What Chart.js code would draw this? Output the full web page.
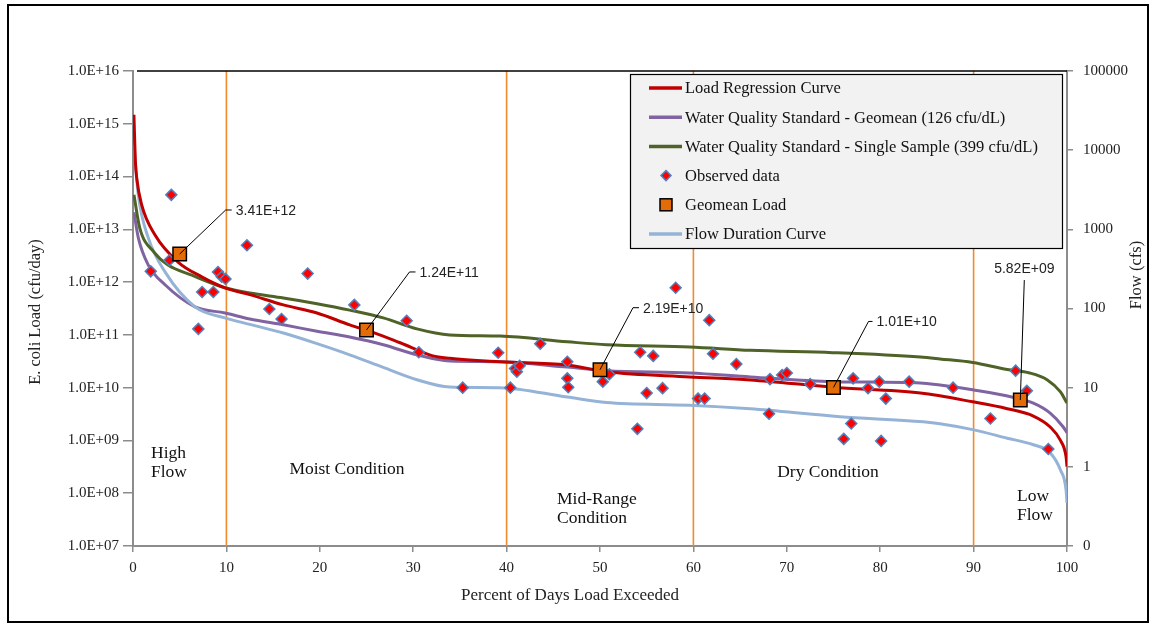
<!DOCTYPE html>
<html>
<head>
<meta charset="utf-8">
<script src="https://cdn.jsdelivr.net/npm/chart.js"></script>
<style>
  body { margin: 0; background: #fff; }
  #c { display: block; }
</style>
</head>
<body>
<canvas id="c" width="1155" height="628"></canvas>
<script>
// percent of days exceeded vs load (cfu/day)
const loadX = [0.1, 0.25, 0.4, 0.93, 2.36, 4.82, 7.36, 9.85, 12.5, 16.1, 19.7, 23.2, 25.7, 28.6, 32.1, 33.9, 39.3, 46.5, 50.7, 59.6, 66.1, 74.9, 84.3, 89.9, 93.6, 96.4, 98.2, 99.3, 99.9, 100];
const loadY = [1.48e15, 2.0e14, 9.3e13, 2.9e13, 7.8e12, 2.4e12, 1.26e12, 7.8e11, 5.8e11, 3.7e11, 2.6e11, 1.55e11, 1.12e11, 7.1e10, 4.0e10, 3.6e10, 3.1e10, 2.7e10, 2.0e10, 1.6e10, 1.4e10, 1.02e10, 7.9e9, 5.4e9, 4.0e9, 2.9e9, 1.8e9, 1.0e9, 4.9e8, 3.2e8];

const wqsGeoX = [0.1, 0.57, 1.64, 3.43, 6.64, 9.85, 12.5, 16.1, 19.7, 23.2, 26.8, 30.4, 33.9, 39.3, 46.5, 50.7, 59.6, 66.1, 74.9, 84.3, 86.4, 89.9, 94.2, 96.4, 98.2, 99.6, 100];
const wqsGeoY = [2.1e13, 6.9e12, 2.1e12, 8.9e11, 3.4e11, 2.6e11, 2.0e11, 1.55e11, 1.17e11, 9.1e10, 6.5e10, 4.2e10, 3.2e10, 3.1e10, 2.45e10, 2.1e10, 1.9e10, 1.6e10, 1.3e10, 1.23e10, 1.12e10, 9.1e9, 6.6e9, 5.1e9, 3.3e9, 1.8e9, 1.4e9];

const wqsSingleX = [0.1, 0.72, 2.25, 3.75, 6.3, 9.85, 12.5, 16.1, 19.7, 23.2, 26.8, 30.4, 33.9, 39.3, 46.5, 50.7, 59.6, 66.1, 74.9, 84.3, 86.4, 89.9, 93.6, 96.0, 97.9, 99.3, 100];
const wqsSingleY = [4.5e13, 1.07e13, 3.7e12, 2.1e12, 1.35e12, 7.8e11, 6.2e11, 5.0e11, 3.9e11, 2.95e11, 2.1e11, 1.3e11, 1.0e11, 9.5e10, 7.4e10, 6.5e10, 5.9e10, 5.1e10, 4.6e10, 3.8e10, 3.5e10, 3.0e10, 2.2e10, 1.9e10, 1.4e10, 8.3e9, 5.1e9];

// flow duration curve, cfs (right axis)
const flowX = [0.1, 0.57, 1.64, 3.43, 6.64, 9.85, 12.5, 16.1, 19.7, 23.2, 26.8, 30.4, 33.9, 39.3, 46.5, 50.7, 59.6, 66.1, 75.7, 84.6, 86.4, 89.9, 93.6, 96.4, 98.2, 99.3, 99.9, 100];
const flowY = [11700, 2700, 780, 290, 105, 76, 63, 49, 36, 26, 18, 12.6, 10.2, 10, 7.6, 6.5, 6.0, 5.4, 4.3, 3.7, 3.5, 2.95, 2.3, 1.9, 1.5, 0.91, 0.51, 0.35];

const obsX = [1.9, 3.9, 4.1, 7.0, 7.4, 8.6, 9.1, 9.5, 9.9, 12.2, 14.6, 15.9, 18.7, 23.7, 29.3, 30.6, 35.3, 39.1, 40.4, 40.9, 41.1, 41.4, 43.6, 46.5, 46.5, 46.6, 50.3, 51.0, 54.0, 54.3, 55.0, 55.7, 56.7, 58.1, 60.5, 61.2, 61.7, 62.1, 64.6, 68.1, 68.2, 69.5, 70.0, 72.5, 76.1, 76.9, 77.1, 78.7, 79.9, 80.1, 80.6, 83.1, 87.8, 91.8, 94.5, 95.7, 98.0];
const obsY = [1.6e12, 2.6e12, 4.5e13, 1.3e11, 6.5e11, 6.5e11, 1.55e12, 1.26e12, 1.15e12, 5.0e12, 3.1e11, 2.0e11, 1.45e12, 3.7e11, 1.85e11, 4.7e10, 1.0e10, 4.6e10, 1.0e10, 2.3e10, 2.0e10, 2.6e10, 6.8e10, 3.1e10, 1.5e10, 1.02e10, 1.3e10, 1.8e10, 1.66e9, 4.7e10, 7.9e9, 4.0e10, 9.8e9, 7.8e11, 6.2e9, 6.2e9, 1.9e11, 4.4e10, 2.8e10, 3.2e9, 1.45e10, 1.74e10, 1.9e10, 1.17e10, 1.07e9, 2.1e9, 1.5e10, 9.8e9, 1.3e10, 9.8e8, 6.2e9, 1.3e10, 1.0e10, 2.6e9, 2.1e10, 8.7e9, 6.9e8];

const gmLoadX = [5, 25, 50, 75, 95];
const gmLoadY = [3.41e12, 1.24e11, 2.19e10, 1.01e10, 5.82e9];

const zoneBounds = [10, 40, 60, 90];
const zoneNames = [["High", "Flow"], ["Moist Condition"], ["Mid-Range", "Condition"], ["Dry Condition"], ["Low", "Flow"]];

const leftTickLabels = ["1.0E+07", "1.0E+08", "1.0E+09", "1.0E+10", "1.0E+11", "1.0E+12", "1.0E+13", "1.0E+14", "1.0E+15", "1.0E+16"];
const rightTickValues = [0.1, 1, 10, 100, 1000, 10000, 100000];
const rightTickLabels = ["0", "1", "10", "100", "1000", "10000", "100000"];

function pts(xs, ys) {
    return xs.map(function(x, i) { return { x: x, y: ys[i] }; });
}

function fmtE(v) {
    const parts = v.toExponential(2).split("e");
    let ex = parts[1];
    const sign = ex[0] === "-" ? "-" : "+";
    ex = ex.replace(/[+-]/, "");
    if (ex.length < 2) ex = "0" + ex;
    return parts[0] + "E" + sign + ex;
}

const SERIF = "'Liberation Serif', serif";
const SANS = "'Liberation Sans', sans-serif";

const deco = {
    id: "deco",
    beforeDatasetsDraw(chart) {
        const ctx = chart.ctx, a = chart.chartArea, x = chart.scales.x;
        ctx.save();
        ctx.strokeStyle = "#F08A2E";
        ctx.lineWidth = 1.6;
        zoneBounds.forEach(function(v) {
            const px = x.getPixelForValue(v);
            ctx.beginPath();
            ctx.moveTo(px, a.top);
            ctx.lineTo(px, a.bottom);
            ctx.stroke();
        });
        ctx.restore();
    },
    afterDatasetsDraw(chart) {
        const ctx = chart.ctx, a = chart.chartArea, x = chart.scales.x, y = chart.scales.y;
        ctx.save();

        // top border of plot
        ctx.strokeStyle = "#000";
        ctx.lineWidth = 1.5;
        ctx.beginPath();
        ctx.moveTo(a.left + 4, a.top);
        ctx.lineTo(a.right, a.top);
        ctx.stroke();

        // callouts for geomean loads
        const offs = [[46, -44, 6], [43, -58, 6], [33, -62, 6], [35, -66, 4], [4, -120, 0]];
        ctx.font = "14px " + SANS;
        ctx.fillStyle = "#222";
        ctx.lineWidth = 1;
        gmLoadX.forEach(function(gx, i) {
            const px = x.getPixelForValue(gx), py = y.getPixelForValue(gmLoadY[i]);
            const o = offs[i];
            ctx.beginPath();
            ctx.moveTo(px, py);
            ctx.lineTo(px + o[0], py + o[1]);
            ctx.lineTo(px + o[0] + o[2], py + o[1]);
            ctx.stroke();
            if (i === offs.length - 1) {
                ctx.textAlign = "center";
                ctx.textBaseline = "bottom";
                ctx.fillText(fmtE(gmLoadY[i]), px + o[0], py + o[1] - 4);
            } else {
                ctx.textAlign = "left";
                ctx.textBaseline = "middle";
                ctx.fillText(fmtE(gmLoadY[i]), px + o[0] + o[2] + 4, py + o[1] + 1);
            }
        });

        // flow zone names
        const zpos = [[151, 453, "left"], [347, 469, "center"], [557, 499, "left"], [828, 472, "center"], [1017, 496, "left"]];
        ctx.font = "17.5px " + SERIF;
        ctx.fillStyle = "#111";
        ctx.textBaseline = "middle";
        zoneNames.forEach(function(lines, i) {
            ctx.textAlign = zpos[i][2];
            lines.forEach(function(t, j) {
                ctx.fillText(t, zpos[i][0], zpos[i][1] + j * 19);
            });
        });

        // legend box
        ctx.fillStyle = "#F2F2F2";
        ctx.fillRect(630, 74, 432, 174);
        ctx.strokeStyle = "#000";
        ctx.lineWidth = 1.2;
        ctx.strokeRect(630.5, 74.5, 432, 174);
        chart.data.datasets.forEach(function(ds, i) {
            const cy = 88 + i * 29.2;
            if (ds.showLine) {
                ctx.strokeStyle = ds.borderColor;
                ctx.lineWidth = 3.5;
                ctx.beginPath();
                ctx.moveTo(649, cy);
                ctx.lineTo(682, cy);
                ctx.stroke();
            } else if (ds.pointStyle === "rectRot") {
                ctx.fillStyle = ds.backgroundColor;
                ctx.strokeStyle = ds.borderColor;
                ctx.lineWidth = 1.5;
                ctx.beginPath();
                ctx.moveTo(666, cy - 5);
                ctx.lineTo(671, cy);
                ctx.lineTo(666, cy + 5);
                ctx.lineTo(661, cy);
                ctx.closePath();
                ctx.fill();
                ctx.stroke();
            } else {
                ctx.fillStyle = ds.backgroundColor;
                ctx.strokeStyle = ds.borderColor;
                ctx.lineWidth = 1.5;
                ctx.fillRect(660, cy - 6, 12, 12);
                ctx.strokeRect(660, cy - 6, 12, 12);
            }
            ctx.fillStyle = "#111";
            ctx.font = "16.5px " + SERIF;
            ctx.textAlign = "left";
            ctx.textBaseline = "middle";
            ctx.fillText(ds.label, 685, cy + 1);
        });
        ctx.restore();
    },
    afterDraw(chart) {
        const ctx = chart.ctx;
        ctx.save();
        ctx.fillStyle = "#222";
        ctx.font = "17px " + SERIF;
        ctx.textAlign = "center";
        ctx.textBaseline = "middle";
        ctx.fillText("Percent of Days Load Exceeded", 570, 596);

        ctx.font = "16.5px " + SERIF;
        ctx.translate(36, 312);
        ctx.rotate(-Math.PI / 2);
        ctx.fillText("E. coli Load (cfu/day)", 0, 0);
        ctx.restore();

        ctx.save();
        ctx.fillStyle = "#222";
        ctx.font = "16.5px " + SERIF;
        ctx.textAlign = "center";
        ctx.textBaseline = "middle";
        ctx.translate(1137, 275);
        ctx.rotate(-Math.PI / 2);
        ctx.fillText("Flow (cfs)", 0, 0);
        ctx.restore();

        // outer frame
        ctx.save();
        ctx.strokeStyle = "#000";
        ctx.lineWidth = 2;
        ctx.strokeRect(8, 5, 1140, 617);
        ctx.restore();
    }
};

function lineSet(label, xs, ys, color, order, axis) {
    return {
        label: label,
        data: pts(xs, ys),
        showLine: true,
        borderColor: color,
        backgroundColor: color,
        borderWidth: 3,
        pointRadius: 0,
        cubicInterpolationMode: "monotone",
        order: order,
        yAxisID: axis || "y"
    };
}

function axisGrid(len) {
    return { display: true, drawOnChartArea: false, drawTicks: true, tickLength: len, color: "#8C8C8C", lineWidth: 1.5 };
}
const axisBorder = { display: true, color: "#8C8C8C", width: 2 };
const tickFont = { family: SERIF, size: 15 };

new Chart(document.getElementById("c").getContext("2d"), {
    type: "scatter",
    data: {
        datasets: [
            lineSet("Load Regression Curve", loadX, loadY, "#C00000", 2),
            lineSet("Water Quality Standard - Geomean (126 cfu/dL)", wqsGeoX, wqsGeoY, "#8064A2", 5),
            lineSet("Water Quality Standard - Single Sample (399 cfu/dL)", wqsSingleX, wqsSingleY, "#4F6228", 3),
            {
                label: "Observed data",
                data: pts(obsX, obsY),
                pointStyle: "rectRot",
                pointRadius: 5.5,
                backgroundColor: "#FF0000",
                borderColor: "#4F81BD",
                borderWidth: 1.5,
                order: 1
            },
            {
                label: "Geomean Load",
                data: pts(gmLoadX, gmLoadY),
                pointStyle: "rect",
                pointRadius: 9.5,
                backgroundColor: "#E36C09",
                borderColor: "#000",
                borderWidth: 1.5,
                order: 0
            },
            lineSet("Flow Duration Curve", flowX, flowY, "#95B3D7", 4, "y1")
        ]
    },
    options: {
        responsive: false,
        animation: false,
        layout: { padding: { left: 20, right: 10, top: 71, bottom: 42 } },
        plugins: { legend: { display: false }, tooltip: { enabled: false } },
        scales: {
            x: {
                type: "linear",
                min: 0,
                max: 100,
                ticks: { stepSize: 10, padding: 7, color: "#222", font: tickFont, maxRotation: 0 },
                grid: axisGrid(6),
                border: axisBorder,
                afterFit: function(s) { s.height = 40; }
            },
            y: {
                type: "logarithmic",
                position: "left",
                min: 1e7,
                max: 1e16,
                afterBuildTicks: function(s) {
                    s.ticks = leftTickLabels.map(function(t) { return { value: parseFloat(t) }; });
                },
                ticks: {
                    padding: 4,
                    color: "#222",
                    font: tickFont,
                    callback: function(v, i) { return leftTickLabels[i]; }
                },
                grid: axisGrid(10),
                border: axisBorder,
                afterFit: function(s) { s.width = 113; }
            },
            y1: {
                type: "logarithmic",
                position: "right",
                min: 0.1,
                max: 100000,
                afterBuildTicks: function(s) {
                    s.ticks = rightTickValues.map(function(v) { return { value: v }; });
                },
                ticks: {
                    padding: 10,
                    color: "#222",
                    font: tickFont,
                    callback: function(v, i) { return rightTickLabels[i]; }
                },
                grid: axisGrid(6),
                border: axisBorder,
                afterFit: function(s) { s.width = 78; }
            }
        }
    },
    plugins: [deco]
});
</script>
</body>
</html>
